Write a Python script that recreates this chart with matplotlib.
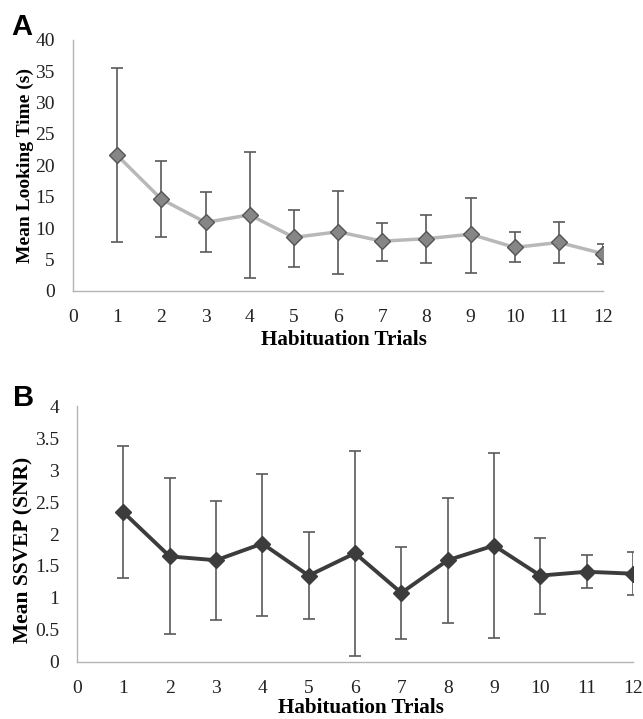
import matplotlib.pyplot as plt

plt.rcParams['font.family'] = ['Liberation Serif', 'DejaVu Serif']

# Habituation trials 1..12
trials = [1, 2, 3, 4, 5, 6, 7, 8, 9, 10, 11, 12]

# Panel A: mean looking time (s) with error bar ends
look_mean = [21.6, 14.6, 10.9, 12.1, 8.5, 9.4, 7.9, 8.3, 9.0, 6.9, 7.7, 5.9]
look_top = [35.6, 20.7, 15.7, 22.1, 12.9, 15.9, 10.8, 12.0, 14.8, 9.3, 10.9, 7.4]
look_bot = [7.7, 8.6, 6.1, 2.0, 3.8, 2.7, 4.8, 4.4, 2.9, 4.5, 4.4, 4.3]

# Panel B: mean SSVEP (SNR) with error bar ends
snr_mean = [2.34, 1.65, 1.59, 1.85, 1.35, 1.70, 1.08, 1.59, 1.82, 1.35, 1.41, 1.38]
snr_top = [3.38, 2.87, 2.51, 2.93, 2.03, 3.30, 1.80, 2.57, 3.27, 1.94, 1.67, 1.72]
snr_bot = [1.31, 0.44, 0.65, 0.72, 0.67, 0.10, 0.36, 0.61, 0.37, 0.75, 1.16, 1.04]

fig = plt.figure(figsize=(6.43, 7.19), dpi=100)
ax_a = fig.add_axes([0.1135, 0.5957, 0.8245, 0.3487])
ax_b = fig.add_axes([0.1198, 0.0793, 0.8646, 0.3560])


def style(ax, ymax, ystep, ylabel, ysize, xpad):
    ax.set_xlim(0, 12)
    ax.set_ylim(0, ymax)
    ax.set_xticks(range(13))
    yt = [i * ystep for i in range(int(round(ymax / ystep)) + 1)]
    ax.set_yticks(yt)
    ax.set_yticklabels(['%g' % v for v in yt])
    for s in ['top', 'right']:
        ax.spines[s].set_visible(False)
    for s in ['left', 'bottom']:
        ax.spines[s].set_color('#b4b4b4')
        ax.spines[s].set_linewidth(1.0)
    ax.tick_params(length=0, labelsize=14, colors='#222222')
    ax.tick_params(axis='x', pad=13)
    ax.tick_params(axis='y', pad=13)
    ax.set_xlabel('Habituation Trials', fontsize=15.2, fontweight='bold', labelpad=xpad)
    ax.set_ylabel(ylabel, fontsize=ysize, fontweight='bold', labelpad=1)
    ax.xaxis.label.set_x(0.511)
    ax.patch.set_alpha(0)


def errs(mean, top, bot):
    lower = [m - b for m, b in zip(mean, bot)]
    upper = [t - m for m, t in zip(mean, top)]
    return [lower, upper]


# Panel A
ax_a.errorbar(trials, look_mean, yerr=errs(look_mean, look_top, look_bot),
              fmt='none', ecolor='#5a5a5a', elinewidth=1.2, capsize=4,
              capthick=1.2, zorder=2)
ax_a.plot(trials, look_mean, color='#b8b8b8', lw=2.5, zorder=3)
ax_a.plot(trials, look_mean, ls='none', marker='D', ms=8, mfc='#868686',
          mec='#555555', mew=1, zorder=4)
style(ax_a, 40, 5, 'Mean Looking Time (s)', 14, 3)

# Panel B
ax_b.errorbar(trials, snr_mean, yerr=errs(snr_mean, snr_top, snr_bot),
              fmt='none', ecolor='#5a5a5a', elinewidth=1.2, capsize=4,
              capthick=1.2, zorder=2)
ax_b.plot(trials, snr_mean, color='#3c3c3c', lw=2.8, marker='D', ms=8.5,
          mfc='#3c3c3c', mec='#3c3c3c', zorder=3)
style(ax_b, 4, 0.5, 'Mean SSVEP (SNR)', 15.5, 0.5)
ax_b.yaxis.label.set_y(0.4375)

fig.text(0.018, 0.951, 'A', fontsize=21, fontweight='bold',
         family=['Liberation Sans', 'DejaVu Sans'])
fig.text(0.02, 0.435, 'B', fontsize=21, fontweight='bold',
         family=['Liberation Sans', 'DejaVu Sans'])

fig.savefig('out.png', dpi=100)
